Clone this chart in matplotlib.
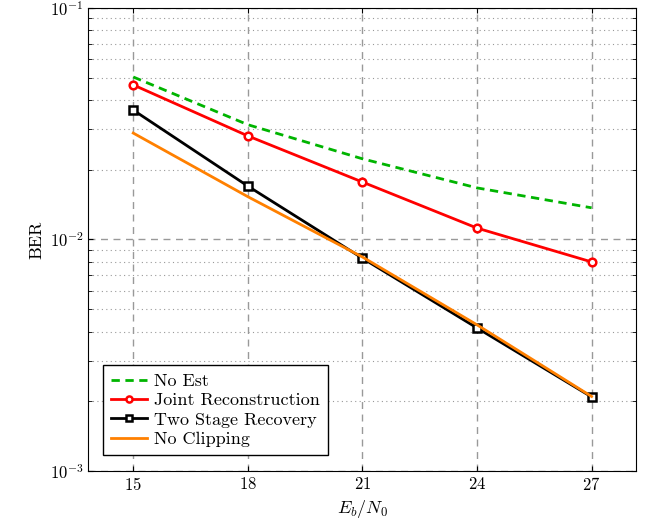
import matplotlib.pyplot as plt
from matplotlib.ticker import LogLocator, NullFormatter

plt.rcParams['font.family'] = 'serif'
plt.rcParams['font.serif'] = ['cmr10', 'DejaVu Serif']
plt.rcParams['mathtext.fontset'] = 'cm'
plt.rcParams['axes.formatter.use_mathtext'] = True

# data
ebn0 = [15, 18, 21, 24, 27]
no_est = [0.0503, 0.0313, 0.0223, 0.0167, 0.0137]
joint = [0.0465, 0.0280, 0.0177, 0.0112, 0.0080]
two_stage = [0.0362, 0.0170, 0.0083, 0.00415, 0.00209]
no_clip = [0.0288, 0.0153, 0.0084, 0.00428, 0.0021]

fig = plt.figure(figsize=(6.58, 5.24), dpi=100)
ax = fig.add_axes([0.134, 0.101, 0.833, 0.884])

ax.plot(ebn0, no_est, color='#00b400', linestyle=(0, (3, 2)), linewidth=2, label='No Est')
ax.plot(ebn0, joint, color='#ff0000', linewidth=2, marker='o', markersize=5.5,
        markerfacecolor='white', markeredgewidth=1.8, label='Joint Reconstruction')
ax.plot(ebn0, two_stage, color='black', linewidth=2, marker='s', markersize=5.5,
        markerfacecolor='white', markeredgewidth=1.8, label='Two Stage Recovery')
ax.plot(ebn0, no_clip, color='#ff8000', linewidth=2, label='No Clipping')

ax.set_yscale('log')
ax.set_ylim(1e-3, 1e-1)
ax.set_xlim(13.82, 28.17)
ax.set_xticks(ebn0)
ax.yaxis.set_minor_locator(LogLocator(base=10, subs=range(2, 10)))
ax.yaxis.set_minor_formatter(NullFormatter())

ax.grid(True, which='major', axis='both', color='#999999', linestyle=(0, (5, 4)), linewidth=1)
ax.grid(True, which='minor', axis='y', color='#999999', linestyle=(0, (1, 3)), linewidth=0.8)
ax.tick_params(which='both', direction='in', top=True, right=True, labelsize=12)
ax.tick_params(which='minor', length=3)

ax.set_xlabel(r'$E_b/N_0$', fontsize=13)
ax.set_ylabel('BER', fontsize=13)

ax.legend(loc='lower left', bbox_to_anchor=(0.01, 0.015), fontsize=13, fancybox=False,
          edgecolor='black', framealpha=1, handlelength=2.0, handletextpad=0.4,
          borderpad=0.45, labelspacing=0.2, markerscale=0.8)

plt.savefig('out.png')
